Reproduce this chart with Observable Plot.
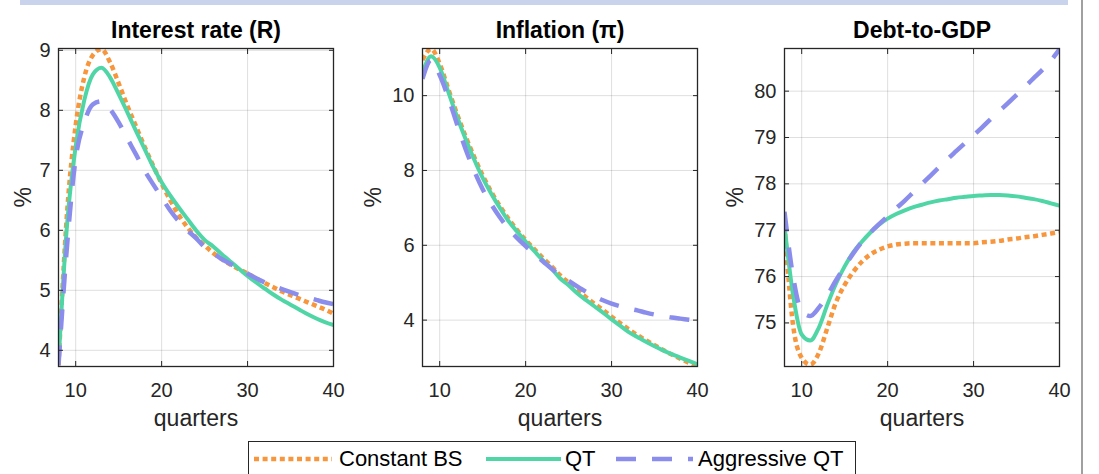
<!DOCTYPE html>
<html><head><meta charset="utf-8">
<script src="https://cdn.jsdelivr.net/npm/d3@7"></script>
<script src="https://cdn.jsdelivr.net/npm/@observablehq/plot@0.6"></script>
<style>
body{margin:0;background:#fff;font-family:"Liberation Sans",Arial,sans-serif;}
#wrap{position:relative;width:1099px;height:474px;overflow:hidden;background:#fff;}
.band{position:absolute;left:20px;top:0;width:1048px;height:5px;background:#c9d3ec;}
.vline{position:absolute;left:1081px;top:0;width:2px;height:474px;background:#a0a0a0;}
.panel{position:absolute;top:0;}
#legend{position:absolute;left:248px;top:441px;width:608px;height:44px;border:1px solid #262626;box-sizing:border-box;background:#fff;}
#legend svg{position:absolute;left:0;top:0;}
#legend span{position:absolute;top:4px;font-size:22px;color:#000;line-height:26px;white-space:nowrap;}
</style>
</head><body>
<div id="wrap">
  <div class="band"></div>
  <div class="vline"></div>
  <div class="panel" id="p1" style="left:0px"></div>
  <div class="panel" id="p2" style="left:360px"></div>
  <div class="panel" id="p3" style="left:720px"></div>
  <div id="legend"></div>
</div>
<script>
// ---- data ----
const quarters = [8,9,10,11,12,13,14,15,16,17,18,19,20,21,22,23,24,25,26,27,28,29,30,31,32,33,34,35,36,37,38,39,40];
const seriesNames = ["Constant BS", "QT", "Aggressive QT"];
const xTicks = [10, 20, 30, 40];

// Interest rate (R)
const rateConst = [3.75,6.3,7.75,8.55,8.92,9.02,8.8,8.45,8.08,7.74,7.4,7.08,6.78,6.5,6.25,6.05,5.88,5.75,5.62,5.52,5.43,5.35,5.28,5.2,5.12,5.05,4.98,4.92,4.86,4.8,4.74,4.68,4.61];
const rateQT    = [3.8,6.1,7.4,8.17,8.6,8.71,8.55,8.27,7.97,7.66,7.36,7.06,6.8,6.58,6.38,6.19,6.0,5.84,5.73,5.6,5.48,5.36,5.24,5.13,5.03,4.93,4.84,4.76,4.68,4.6,4.53,4.47,4.42];
const rateAgg   = [3.75,5.75,7.2,7.8,8.1,8.15,8.02,7.8,7.53,7.27,7.0,6.77,6.55,6.33,6.15,6.0,5.87,5.72,5.62,5.52,5.44,5.36,5.28,5.2,5.13,5.07,5.02,4.97,4.92,4.88,4.84,4.8,4.77];
const rateTicks = [4,5,6,7,8,9];

// Inflation (pi)
const inflConst = [10.95,11.25,10.85,10.18,9.52,8.92,8.37,7.87,7.43,7.05,6.71,6.41,6.14,5.9,5.66,5.44,5.2,5.0,4.8,4.62,4.44,4.27,4.09,3.92,3.75,3.6,3.46,3.33,3.2,3.08,2.97,2.86,2.76];
const inflQT    = [10.6,11.05,10.75,10.1,9.45,8.85,8.3,7.8,7.38,7.0,6.65,6.37,6.1,5.85,5.6,5.38,5.12,4.93,4.72,4.54,4.37,4.2,4.02,3.85,3.68,3.55,3.42,3.3,3.19,3.09,3.0,2.91,2.82];
const inflAgg   = [10.45,10.95,10.55,9.95,9.25,8.58,8.0,7.5,7.1,6.75,6.45,6.2,5.98,5.78,5.57,5.38,5.2,5.05,4.9,4.76,4.64,4.53,4.44,4.37,4.31,4.26,4.2,4.15,4.11,4.07,4.04,4.01,3.98];
const inflTicks = [4,6,8,10];

// Debt-to-GDP
const debtConst = [77.1,74.95,74.25,74.1,74.35,74.9,75.45,75.82,76.1,76.32,76.48,76.58,76.65,76.69,76.71,76.72,76.72,76.72,76.72,76.72,76.72,76.72,76.72,76.74,76.75,76.77,76.8,76.82,76.85,76.87,76.9,76.93,76.96];
const debtQT    = [77.1,75.6,74.75,74.62,74.9,75.4,75.85,76.22,76.52,76.75,76.95,77.12,77.25,77.35,77.43,77.5,77.55,77.6,77.64,77.67,77.7,77.72,77.74,77.75,77.76,77.76,77.75,77.73,77.7,77.67,77.63,77.58,77.53];
const debtAgg   = [77.4,76.0,75.25,75.15,75.33,75.6,75.92,76.22,76.5,76.75,76.95,77.13,77.3,77.47,77.64,77.82,78.0,78.18,78.36,78.54,78.71,78.88,79.05,79.22,79.4,79.57,79.74,79.92,80.1,80.28,80.46,80.66,80.9];
const debtTicks = [75,76,77,78,79,80];

// ---- styles ----
const colors = {"Constant BS":"#f7963c", "QT":"#50d6a6", "Aggressive QT":"#8a8deb"};
const dashes = {"Constant BS":"5,3.6", "QT":null, "Aggressive QT":"20,16"};
const widths = {"Constant BS":4.5, "QT":4, "Aggressive QT":4.5};
const FONT = "'Liberation Sans', Arial, sans-serif";

function panel(el, ml, ydom, yTicks, title, values, ylabDx) {
  const data = [];
  seriesNames.forEach((name, k) => values[k].forEach((v, i) => data.push({q: quarters[i], v, name})));
  const W = 360, H = 440, PW = 275;
  const lines = seriesNames.map(name => Plot.line(data.filter(d => d.name === name), {
    x: "q", y: "v", stroke: colors[name], strokeWidth: widths[name],
    strokeDasharray: dashes[name], strokeLinecap: "butt", strokeLinejoin: "round",
    curve: "monotone-x", clip: true
  }));
  const fmt = d => String(d);
  const svg = Plot.plot({
    width: W, height: H,
    marginLeft: ml, marginRight: W - ml - PW, marginTop: 48, marginBottom: 74,
    style: {fontFamily: FONT, fontSize: "20px", color: "#262626", background: "transparent", overflow: "visible"},
    x: {domain: [8, 40]},
    y: {domain: ydom},
    marks: [
      Plot.gridX(xTicks, {stroke: "#262626", strokeOpacity: 0.15}),
      Plot.gridY(yTicks, {stroke: "#262626", strokeOpacity: 0.15}),
      ...lines,
      Plot.frame({stroke: "#262626", strokeWidth: 1.3}),
      Plot.axisX(xTicks, {anchor: "bottom", tickSize: -5, tickPadding: 21, label: null, fontSize: 20, tickFormat: fmt}),
      Plot.axisX(xTicks, {anchor: "top", tickSize: -5, tickFormat: () => "", label: null}),
      Plot.axisY(yTicks, {anchor: "left", tickSize: -5, tickPadding: 13, label: null, fontSize: 20, tickFormat: fmt}),
      Plot.axisY(yTicks, {anchor: "right", tickSize: -5, tickFormat: () => "", label: null}),
      Plot.text([title], {text: d => d, frameAnchor: "top", lineAnchor: "middle", dy: -18, fontSize: 23, fontWeight: "bold", fill: "#000"}),
      Plot.text(["quarters"], {text: d => d, frameAnchor: "bottom", lineAnchor: "middle", dy: 52, fontSize: 23, fill: "#262626"}),
      Plot.text(["%"], {text: d => d, frameAnchor: "left", lineAnchor: "middle", dx: ylabDx, rotate: -90, fontSize: 23, fill: "#262626"})
    ]
  });
  document.getElementById(el).appendChild(svg);
}

panel("p1", 58, [3.73, 9.03], rateTicks, "Interest rate (R)", [rateConst, rateQT, rateAgg], -35);
panel("p2", 62, [2.76, 11.26], inflTicks, "Inflation (\u03C0)", [inflConst, inflQT, inflAgg], -49);
panel("p3", 64, [74.06, 80.92], debtTicks, "Debt-to-GDP", [debtConst, debtQT, debtAgg], -49);

// ---- legend ----
const leg = document.getElementById("legend");
const legItems = [
  {name: "Constant BS", x0: 5, x1: 83, tx: 90},
  {name: "QT", x0: 237, x1: 312, tx: 316},
  {name: "Aggressive QT", x0: 367, x1: 444, tx: 449}
];
const ns = "http://www.w3.org/2000/svg";
const lsvg = document.createElementNS(ns, "svg");
lsvg.setAttribute("width", 606); lsvg.setAttribute("height", 40);
legItems.forEach(it => {
  const l = document.createElementNS(ns, "line");
  l.setAttribute("x1", it.x0); l.setAttribute("x2", it.x1);
  l.setAttribute("y1", 17); l.setAttribute("y2", 17);
  l.setAttribute("stroke", colors[it.name]);
  l.setAttribute("stroke-width", widths[it.name]);
  if (dashes[it.name]) l.setAttribute("stroke-dasharray", dashes[it.name]);
  lsvg.appendChild(l);
  const s = document.createElement("span");
  s.textContent = it.name; s.style.left = it.tx + "px";
  leg.appendChild(s);
});
leg.appendChild(lsvg);
</script>
</body></html>
